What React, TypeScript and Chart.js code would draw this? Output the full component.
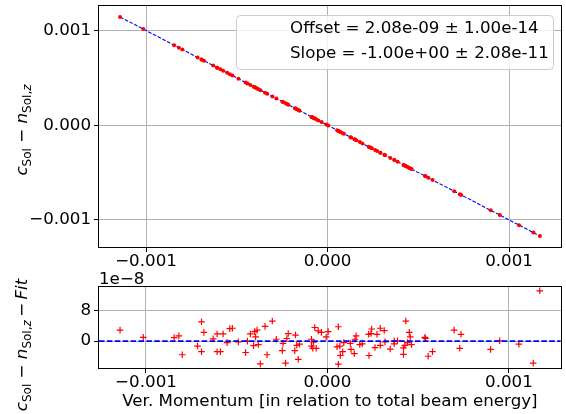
import { useEffect, useRef } from "react";
import { Chart, registerables } from "chart.js";

Chart.register(...registerables);

// ---------- data ----------
const momentum = [
  -1.143e-3, -1.015e-3, -0.845e-3, -0.819e-3, -0.8e-3, -0.716e-3, -0.694e-3, -0.694e-3, -0.681e-3, -0.63e-3,
  -0.608e-3, -0.608e-3, -0.59e-3, -0.575e-3, -0.553e-3, -0.538e-3, -0.524e-3, -0.491e-3, -0.451e-3, -0.441e-3,
  -0.425e-3, -0.407e-3, -0.401e-3, -0.396e-3, -0.388e-3, -0.381e-3, -0.37e-3, -0.344e-3, -0.333e-3, -0.304e-3,
  -0.282e-3, -0.249e-3, -0.245e-3, -0.231e-3, -0.224e-3, -0.216e-3, -0.18e-3, -0.176e-3, -0.169e-3, -0.161e-3,
  -0.154e-3, -0.088e-3, -0.088e-3, -0.081e-3, -0.077e-3, -0.07e-3, -0.062e-3, -0.051e-3, -0.033e-3, -0.007e-3,
  0.004e-3, 0.053e-3, 0.06e-3, 0.06e-3, 0.068e-3, 0.071e-3, 0.084e-3, 0.09e-3, 0.126e-3, 0.13e-3,
  0.148e-3, 0.152e-3, 0.158e-3, 0.178e-3, 0.192e-3, 0.227e-3, 0.229e-3, 0.24e-3, 0.244e-3, 0.262e-3,
  0.273e-3, 0.291e-3, 0.291e-3, 0.313e-3, 0.317e-3, 0.346e-3, 0.368e-3, 0.368e-3, 0.386e-3, 0.419e-3,
  0.419e-3, 0.427e-3, 0.432e-3, 0.441e-3, 0.451e-3, 0.456e-3, 0.463e-3, 0.537e-3, 0.54e-3, 0.555e-3,
  0.579e-3, 0.698e-3, 0.729e-3, 0.736e-3, 0.899e-3, 0.949e-3, 1.055e-3, 1.134e-3, 1.17e-3,
];

const deviation = [
  1.143e-3, 1.015e-3, 0.845e-3, 0.819e-3, 0.8e-3, 0.716e-3, 0.694e-3, 0.694e-3, 0.681e-3, 0.63e-3,
  0.608e-3, 0.608e-3, 0.59e-3, 0.575e-3, 0.553e-3, 0.538e-3, 0.524e-3, 0.491e-3, 0.451e-3, 0.441e-3,
  0.425e-3, 0.407e-3, 0.401e-3, 0.396e-3, 0.388e-3, 0.381e-3, 0.37e-3, 0.344e-3, 0.333e-3, 0.304e-3,
  0.282e-3, 0.249e-3, 0.245e-3, 0.231e-3, 0.224e-3, 0.216e-3, 0.18e-3, 0.176e-3, 0.169e-3, 0.161e-3,
  0.154e-3, 0.088e-3, 0.088e-3, 0.081e-3, 0.077e-3, 0.07e-3, 0.062e-3, 0.051e-3, 0.033e-3, 0.007e-3,
  -0.004e-3, -0.053e-3, -0.06e-3, -0.06e-3, -0.068e-3, -0.071e-3, -0.084e-3, -0.09e-3, -0.126e-3, -0.13e-3,
  -0.148e-3, -0.152e-3, -0.158e-3, -0.178e-3, -0.192e-3, -0.227e-3, -0.229e-3, -0.24e-3, -0.244e-3, -0.262e-3,
  -0.273e-3, -0.291e-3, -0.291e-3, -0.313e-3, -0.317e-3, -0.346e-3, -0.368e-3, -0.368e-3, -0.386e-3, -0.419e-3,
  -0.419e-3, -0.427e-3, -0.432e-3, -0.441e-3, -0.451e-3, -0.456e-3, -0.463e-3, -0.537e-3, -0.54e-3, -0.555e-3,
  -0.579e-3, -0.698e-3, -0.729e-3, -0.736e-3, -0.899e-3, -0.949e-3, -1.055e-3, -1.134e-3, -1.17e-3,
];

const residual = [
  2.9e-8, 1.0e-8, 0.9e-8, 1.4e-8, -3.6e-8, -1.3e-8, 5.1e-8, -2.8e-8, 2.3e-8, 0.6e-8,
  1.9e-8, -2.8e-8, -2.8e-8, 1.9e-8, -0.4e-8, 3.3e-8, 3.4e-8, -0.2e-8, -3.0e-8, 0.0,
  1.9e-8, -1.2e-8, 2.5e-8, 1.1e-8, 2.9e-8, -0.9e-8, -6.0e-8, 3.9e-8, -3.6e-8, 5.3e-8,
  0.5e-8, -2.5e-8, -0.6e-8, -5.8e-8, 0.7e-8, 2.0e-8, -2.5e-8, 1.6e-8, -1.1e-8, -4.8e-8,
  -0.8e-8, 0.5e-8, -1.3e-8, -1.9e-8, -0.3e-8, 3.6e-8, -1.9e-8, 2.7e-8, 2.3e-8, 1.1e-8,
  2.5e-8, -1.5e-8, 3.8e-8, -6.1e-8, -1.3e-8, -3.8e-8, -2.8e-8, -0.4e-8, -0.6e-8, -2.2e-8,
  -3.3e-8, 0.5e-8, 1.4e-8, -0.9e-8, -0.7e-8, 1.8e-8, -3.8e-8, 2.0e-8, 3.2e-8, -1.7e-8,
  1.8e-8, 3.4e-8, -1.1e-8, 2.8e-8, -0.2e-8, -2.1e-8, 0.1e-8, -0.7e-8, 0.1e-8, -1.8e-8,
  -3.5e-8, -1.1e-8, 5.3e-8, -0.4e-8, 2.3e-8, 1.1e-8, -0.9e-8, 1.0e-8, 0.7e-8, -4.0e-8,
  -2.8e-8, 2.9e-8, -1.9e-8, 1.8e-8, -2.2e-8, 0.1e-8, -0.8e-8, -5.8e-8, 13.3e-8,
];

const fitX = [-1.143e-3, 1.17e-3];
const fitY = [1.143e-3, -1.17e-3];
const legendLines = ["Offset = 2.08e-09 \u00b1 1.00e-14", "Slope = -1.00e+00 \u00b1 2.08e-11"];

const xTicks = [-0.001, 0, 0.001];
const xTickLabels = ["\u22120.001", "0.000", "0.001"];
const yTicks = [-0.001, 0, 0.001];
const yTickLabels = ["\u22120.001", "0.000", "0.001"];
const resTicks = [0, 8e-8];
const resTickLabels = ["0", "8"];
const resOffsetLabel = "1e\u22128";
const xTitle = "Ver. Momentum [in relation to total beam energy]";

const xRange = [-1.259e-3, 1.286e-3];
const yRange = [-1.286e-3, 1.259e-3];
const resRange = [-7.1e-8, 14.3e-8];

// ---------- style ----------
const FONT = '"DejaVu Sans", sans-serif';
const FS = 16.7;

type Run = { t: string; it?: boolean; sub?: boolean };

const topYLabel: Run[] = [
  { t: "c", it: true },
  { t: "Sol", sub: true },
  { t: " \u2212 " },
  { t: "n", it: true },
  { t: "Sol,", sub: true },
  { t: "z", it: true, sub: true },
];
const botYLabel: Run[] = [...topYLabel, { t: "\u2009\u2212\u2009" }, { t: "Fit", it: true }];

function drawRuns(ctx: CanvasRenderingContext2D, runs: Run[], bx: number, cy: number) {
  const fontFor = (r: Run) => `${r.it ? "italic " : ""}${r.sub ? FS * 0.72 : FS}px ${FONT}`;
  let total = 0;
  const ws = runs.map((r) => {
    ctx.font = fontFor(r);
    const w = ctx.measureText(r.t).width;
    total += w;
    return w;
  });
  ctx.save();
  ctx.translate(bx, cy);
  ctx.rotate(-Math.PI / 2);
  ctx.fillStyle = "#000";
  ctx.textBaseline = "alphabetic";
  ctx.textAlign = "left";
  let x = -total / 2;
  runs.forEach((r, i) => {
    ctx.font = fontFor(r);
    ctx.fillText(r.t, x, r.sub ? FS * 0.22 : 0);
    x += ws[i];
  });
  ctx.restore();
}

const pick = (ticks: number[], labels: string[]) => (v: number | string) => {
  const i = ticks.findIndex((t) => Math.abs(t - Number(v)) < 1e-13);
  return i >= 0 ? labels[i] : "";
};

const frame = {
  id: "frame",
  afterDraw(chart: any) {
    const { ctx, chartArea: a } = chart;
    ctx.save();
    ctx.strokeStyle = "#000";
    ctx.lineWidth = 1;
    ctx.strokeRect(Math.round(a.left) - 0.5, Math.round(a.top) - 0.5, Math.round(a.right - a.left) + 1, Math.round(a.bottom - a.top) + 1);
    ctx.restore();
  },
};

function axisOpts(ticks: number[], labels: string[], range: number[], size: { w?: number; h?: number }, extra: any = {}) {
  return {
    type: "linear",
    min: range[0],
    max: range[1],
    afterBuildTicks: (s: any) => {
      s.ticks = ticks.map((value) => ({ value }));
    },
    afterFit: (s: any) => {
      if (size.w !== undefined) s.width = size.w;
      if (size.h !== undefined) s.height = size.h;
      s.paddingTop = 0;
      s.paddingBottom = 0;
      s.paddingLeft = 0;
      s.paddingRight = 0;
    },
    grid: { color: "#b0b0b0", lineWidth: 1, tickColor: "#000", tickLength: 5, drawTicks: true },
    border: { display: false },
    ticks: {
      callback: pick(ticks, labels),
      font: { family: FONT, size: FS },
      color: "#000",
      padding: size.h !== undefined ? 0 : 3,
      maxRotation: 0,
      autoSkip: false,
    },
    ...extra,
  };
}

export default function App() {
  const topRef = useRef<HTMLCanvasElement>(null);
  const botRef = useRef<HTMLCanvasElement>(null);

  useEffect(() => {
    const topLabels = {
      id: "topLabels",
      afterDraw(chart: any) {
        const ctx = chart.ctx;
        drawRuns(ctx, topYLabel, 27, 130);
        // legend
        ctx.save();
        ctx.beginPath();
        (ctx as any).roundRect(236.5, 15.5, 317, 54, 4);
        ctx.fillStyle = "rgba(255,255,255,0.8)";
        ctx.fill();
        ctx.strokeStyle = "#cccccc";
        ctx.lineWidth = 1;
        ctx.stroke();
        ctx.fillStyle = "#000";
        ctx.font = `${FS}px ${FONT}`;
        ctx.textBaseline = "middle";
        ctx.textAlign = "left";
        ctx.fillText(legendLines[0], 290, 29);
        ctx.fillText(legendLines[1], 290, 54);
        ctx.restore();
      },
    };
    const botLabels = {
      id: "botLabels",
      afterDraw(chart: any) {
        const ctx = chart.ctx;
        drawRuns(ctx, botYLabel, 27, 105);
        ctx.save();
        ctx.fillStyle = "#000";
        ctx.font = `${FS}px ${FONT}`;
        ctx.textBaseline = "alphabetic";
        ctx.textAlign = "left";
        ctx.fillText(resOffsetLabel, 99, 44);
        ctx.restore();
      },
    };

    const top = new Chart(topRef.current!, {
      type: "scatter",
      data: {
        datasets: [
          {
            data: momentum.map((x, i) => ({ x, y: deviation[i] })),
            backgroundColor: "#ff0000",
            borderColor: "#ff0000",
            pointRadius: 2,
            pointBorderWidth: 0,
            order: 0,
          },
          {
            type: "line",
            data: fitX.map((x, i) => ({ x, y: fitY[i] })),
            borderColor: "#0000ff",
            borderWidth: 1.1,
            borderDash: [3.7, 1.6],
            pointRadius: 0,
            order: 1,
          } as any,
        ],
      },
      options: {
        animation: false,
        responsive: false,
        devicePixelRatio: 1,
        layout: { padding: { top: 6, right: 5, left: 0, bottom: 0 } },
        plugins: { legend: { display: false }, tooltip: { enabled: false } },
        scales: {
          x: axisOpts(xTicks, xTickLabels, xRange, { h: 33 }),
          y: axisOpts(yTicks, yTickLabels, yRange, { w: 99 }),
        } as any,
      },
      plugins: [frame, topLabels],
    });

    const bot = new Chart(botRef.current!, {
      type: "scatter",
      data: {
        datasets: [
          {
            type: "line",
            data: xRange.map((x) => ({ x, y: 0 })),
            borderColor: "#0000ff",
            borderWidth: 1.6,
            borderDash: [5.5, 2.4],
            pointRadius: 0,
            order: 0,
          } as any,
          {
            data: momentum.map((x, i) => ({ x, y: residual[i] })),
            pointStyle: "cross",
            borderColor: "#ff0000",
            backgroundColor: "#ff0000",
            pointRadius: 3.3,
            pointBorderWidth: 1.2,
            order: 1,
          },
        ],
      },
      options: {
        animation: false,
        responsive: false,
        devicePixelRatio: 1,
        layout: { padding: { top: 47, right: 5, left: 0, bottom: 0 } },
        plugins: { legend: { display: false }, tooltip: { enabled: false } },
        scales: {
          x: axisOpts(xTicks, xTickLabels, xRange, { h: 46 }, {
            title: { display: true, text: xTitle, color: "#000", font: { family: FONT, size: FS }, padding: { top: 0, bottom: 2 } },
          }),
          y: axisOpts(resTicks, resTickLabels, resRange, { w: 99 }),
        } as any,
      },
      plugins: [frame, botLabels],
    });

    return () => {
      top.destroy();
      bot.destroy();
    };
  }, []);

  return (
    <div style={{ position: "absolute", left: 0, top: 0, width: 566, height: 414, background: "#fff" }}>
      <canvas ref={topRef} width={566} height={280} style={{ position: "absolute", left: 0, top: 0, width: 566, height: 280 }} />
      <canvas ref={botRef} width={566} height={174} style={{ position: "absolute", left: 0, top: 240, width: 566, height: 174 }} />
    </div>
  );
}
